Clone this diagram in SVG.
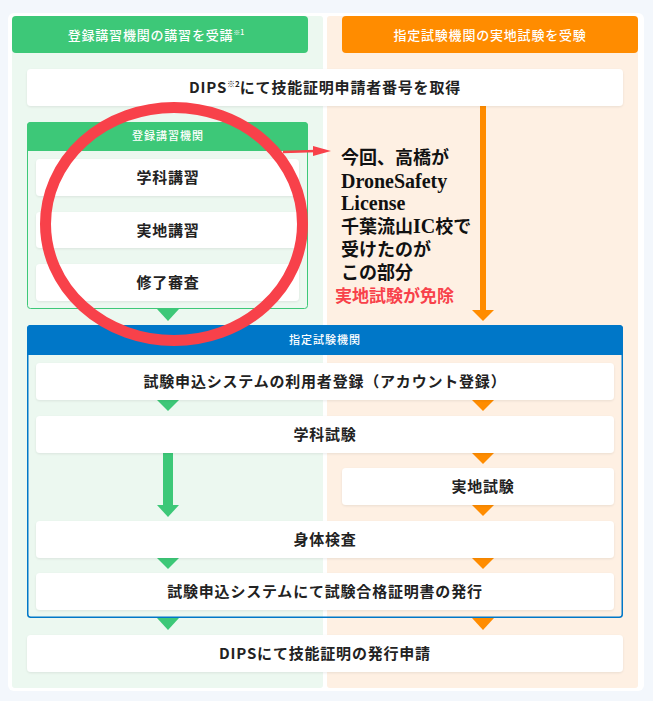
<svg xmlns="http://www.w3.org/2000/svg" width="653" height="701" viewBox="0 0 653 701">
<defs>
<style>
.box{fill:#ffffff;}
.t{font-family:"Noto Sans CJK JP","Noto Sans",sans-serif;font-weight:700;font-size:15px;fill:#222222;text-anchor:middle;letter-spacing:0.8px;}
.h{font-family:"Noto Sans CJK JP","Noto Sans",sans-serif;font-weight:500;font-size:13px;fill:#ffffff;text-anchor:middle;letter-spacing:0.8px;}
.hs{font-family:"Noto Sans CJK JP","Noto Sans",sans-serif;font-weight:500;font-size:11px;fill:#ffffff;text-anchor:middle;letter-spacing:1px;}
.g{fill:#3dc878;}
.o{fill:#ff8c00;}
.note{font-family:"Liberation Serif","Noto Sans CJK JP",serif;font-weight:700;font-size:18px;fill:#111111;}
.lat{font-size:20px;}
</style>
<filter id="sh" x="-5%" y="-20%" width="110%" height="140%">
<feDropShadow dx="0" dy="1" stdDeviation="1" flood-color="#000000" flood-opacity="0.08"/>
</filter>
</defs>
<rect x="0" y="0" width="653" height="701" fill="#f3f7fc"/>
<rect x="8" y="13" width="636" height="678" rx="6" fill="#ffffff"/>
<rect x="12" y="16" width="311" height="672" rx="3" fill="#ecf8f0"/>
<rect x="327" y="16" width="311" height="672" rx="3" fill="#fef0e3"/>

<g id="header-left">
<rect x="12" y="16" width="296" height="37" rx="4" class="g"/>
<text x="156" y="40" class="h">登録講習機関の講習を受講<tspan font-size="7" dy="-5" letter-spacing="0">※1</tspan></text>
</g>
<g id="header-right">
<rect x="342" y="16" width="296" height="37" rx="4" class="o"/>
<text x="490" y="40" class="h">指定試験機関の実地試験を受験</text>
</g>

<g id="connectors">
<polygon points="163,106 173,106 168,111" class="g"/>
<rect x="480" y="106" width="6" height="206" class="o"/>
<polygon points="472,310 494,310 483,321" class="o"/>
<polygon points="157,196 179,196 168,207" class="g"/>
<polygon points="157,248 179,248 168,259" class="g"/>
<polygon points="157,309 179,309 168,321" class="g"/>
<polygon points="157,400 179,400 168,411" class="g"/>
<polygon points="472,400 494,400 483,411" class="o"/>
<rect x="163" y="453" width="10" height="53" class="g"/>
<polygon points="157,505 179,505 168,517" class="g"/>
<polygon points="472,453 494,453 483,464" class="o"/>
<polygon points="472,505 494,505 483,516" class="o"/>
<polygon points="157,558 179,558 168,569" class="g"/>
<polygon points="472,558 494,558 483,569" class="o"/>
<polygon points="157,618 179,618 168,630" class="g"/>
<polygon points="472,618 494,618 483,630" class="o"/>
</g>

<g id="dips-number">
<rect x="27" y="69" width="596" height="37" rx="4" class="box" filter="url(#sh)"/>
<text x="325" y="93" class="t">DIPS<tspan font-size="8" dy="-6" letter-spacing="0">※2</tspan><tspan dy="6">にて技能証明申請者番号を取得</tspan></text>
</g>

<g id="training-org">
<rect x="27.5" y="122.5" width="280" height="186" rx="3" fill="#ecf8f0" stroke="#3dc878" stroke-width="1"/>
<path d="M27,151 V126 a4,4 0 0 1 4,-4 H304 a4,4 0 0 1 4,4 V151 Z" class="g"/>
<text x="168" y="140" class="hs">登録講習機関</text>
</g>
<g id="academic-course">
<rect x="36" y="159" width="263" height="37" rx="4" class="box" filter="url(#sh)"/>
<text x="168" y="183" class="t">学科講習</text>
</g>
<g id="practical-course">
<rect x="36" y="212" width="263" height="36" rx="4" class="box" filter="url(#sh)"/>
<text x="168" y="236" class="t">実地講習</text>
</g>
<g id="completion-review">
<rect x="36" y="264" width="263" height="37" rx="4" class="box" filter="url(#sh)"/>
<text x="168" y="288" class="t">修了審査</text>
</g>

<g id="exam-org">
<rect x="27.75" y="325.75" width="594.5" height="291.5" rx="3" fill="none" stroke="#0077c8" stroke-width="1.5"/>
<path d="M27,355 V329 a4,4 0 0 1 4,-4 H619 a4,4 0 0 1 4,4 V355 Z" fill="#0077c8"/>
<text x="325" y="344" class="hs">指定試験機関</text>
</g>
<g id="account-registration">
<rect x="36" y="363" width="578" height="37" rx="4" class="box" filter="url(#sh)"/>
<text x="325" y="387" class="t">試験申込システムの利用者登録（アカウント登録）</text>
</g>
<g id="academic-exam">
<rect x="36" y="416" width="578" height="37" rx="4" class="box" filter="url(#sh)"/>
<text x="325" y="440" class="t">学科試験</text>
</g>
<g id="practical-exam">
<rect x="342" y="468" width="272" height="37" rx="4" class="box" filter="url(#sh)"/>
<text x="483" y="492" class="t">実地試験</text>
</g>
<g id="physical-exam">
<rect x="36" y="521" width="578" height="37" rx="4" class="box" filter="url(#sh)"/>
<text x="325" y="545" class="t">身体検査</text>
</g>
<g id="certificate-issue">
<rect x="36" y="573" width="578" height="37" rx="4" class="box" filter="url(#sh)"/>
<text x="325" y="597" class="t">試験申込システムにて試験合格証明書の発行</text>
</g>
<g id="dips-application">
<rect x="27" y="635" width="596" height="37" rx="4" class="box" filter="url(#sh)"/>
<text x="325" y="659" class="t">DIPSにて技能証明の発行申請</text>
</g>

<g id="annotation">
<ellipse cx="174" cy="224" rx="128.5" ry="116.5" fill="none" stroke="#f8414a" stroke-width="11"/>
<line x1="283" y1="152" x2="316" y2="151" stroke="#f8414a" stroke-width="2.5"/>
<polygon points="313,146 331,151 313,156" fill="#f8414a"/>
<text class="note" x="341" y="164">今回、高橋が</text>
<text class="note lat" x="341" y="188">DroneSafety</text>
<text class="note lat" x="341" y="210">License</text>
<text class="note" x="341" y="233">千葉流山<tspan class="lat">IC</tspan>校で</text>
<text class="note" x="341" y="256">受けたのが</text>
<text class="note" x="341" y="279">この部分</text>
<text x="335" y="302" font-family="'Noto Sans CJK JP',sans-serif" font-weight="700" font-size="17" fill="#f8414a">実地試験が免除</text>
</g>
</svg>
